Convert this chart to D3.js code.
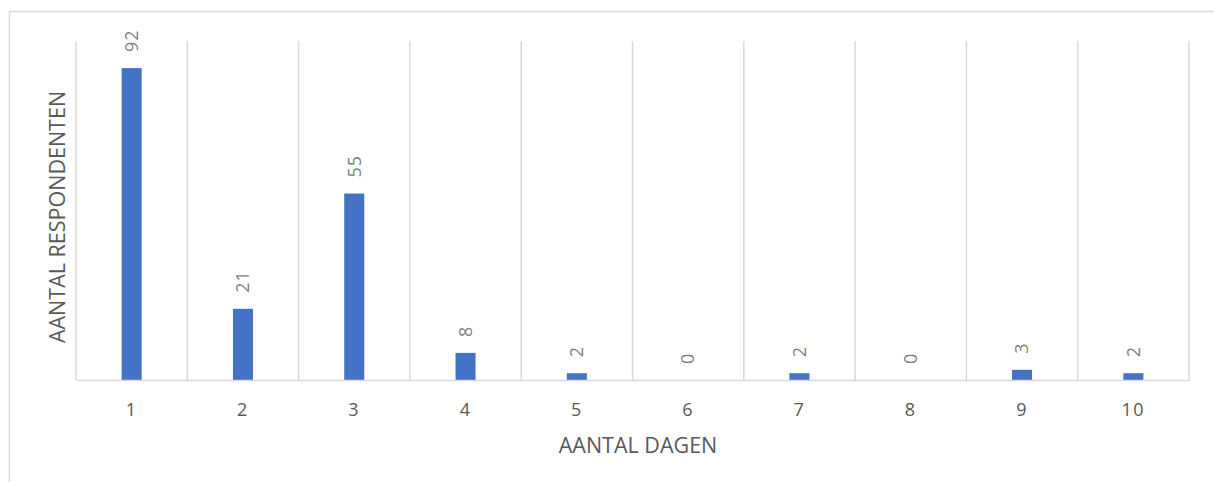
<html>
<head>
<meta charset="utf-8">
<script src="https://cdn.jsdelivr.net/npm/d3@7"></script>
<style>
  body { margin: 0; background: #fff; }
  text { font-family: "Open Sans", sans-serif; }
</style>
</head>
<body>
<svg></svg>
<script>
// aantal dagen vs aantal respondenten
var days = ["1", "2", "3", "4", "5", "6", "7", "8", "9", "10"];
var counts = [92, 21, 55, 8, 2, 0, 2, 0, 3, 2];
var yMax = 100;

var W = 1214, H = 482;
var plot = {left: 76, right: 1189, top: 41, bottom: 380};

var svg = d3.select("svg").attr("width", W).attr("height", H);

// kader rond de grafiek (rechts/onder valt buiten beeld)
svg.append("rect")
  .attr("x", 9.5).attr("y", 11.5)
  .attr("width", W + 20).attr("height", H + 20)
  .attr("fill", "none").attr("stroke", "#d9d9d9").attr("stroke-width", 1.5);

var x = d3.scaleBand().domain(days).range([plot.left, plot.right]).padding(0);
var y = d3.scaleLinear().domain([0, yMax]).range([plot.bottom, plot.top]);

// verticale rasterlijnen tussen de categorieen
var edges = days.map(function(d){ return x(d); }).concat([plot.right]);
svg.selectAll(".grid")
  .data(edges).enter()
  .append("line").classed("grid", 1)
  .attr("x1", function(d){ return d; }).attr("x2", function(d){ return d; })
  .attr("y1", plot.top).attr("y2", plot.bottom)
  .attr("stroke", "#d9d9d9").attr("stroke-width", 1.5);

// balken
var barW = x.bandwidth() * 0.18;
svg.selectAll(".bar")
  .data(counts).enter()
  .append("rect").classed("bar", 1)
  .attr("x", function(d, i){ return x(days[i]) + x.bandwidth() / 2 - barW / 2; })
  .attr("y", function(d){ return y(d); })
  .attr("width", barW)
  .attr("height", function(d){ return y(0) - y(d); })
  .attr("fill", "#4472c4");

// x-as
var xAxis = svg.append("g")
  .attr("transform", "translate(0," + plot.bottom + ")")
  .call(d3.axisBottom(x).tickSize(0).tickPadding(23));
xAxis.select(".domain").attr("stroke", "#d9d9d9").attr("stroke-width", 1.5);
xAxis.selectAll("text")
  .attr("font-family", "Open Sans, sans-serif")
  .attr("font-size", 18).attr("letter-spacing", 1.5).attr("fill", "#595959");

// waardelabels, gedraaid
svg.selectAll(".lbl")
  .data(counts).enter()
  .append("text").classed("lbl", 1)
  .attr("transform", function(d, i){
    return "translate(" + (x(days[i]) + x.bandwidth() / 2) + "," + (y(d) - 16) + ") rotate(-90)";
  })
  .attr("dy", "0.35em")
  .attr("text-anchor", "start")
  .attr("font-size", 18).attr("letter-spacing", 1)
  .attr("fill", "#7f7f7f")
  .text(function(d){ return d; });

// astitels
svg.append("text")
  .attr("x", 638).attr("y", 453)
  .attr("text-anchor", "middle")
  .attr("font-size", 21.5).attr("fill", "#595959")
  .text("AANTAL DAGEN");

svg.append("text")
  .attr("transform", "translate(" + 65 + "," + 217 + ") rotate(-90)")
  .attr("text-anchor", "middle")
  .attr("font-size", 21.5).attr("fill", "#595959")
  .text("AANTAL RESPONDENTEN");
</script>
</body>
</html>
